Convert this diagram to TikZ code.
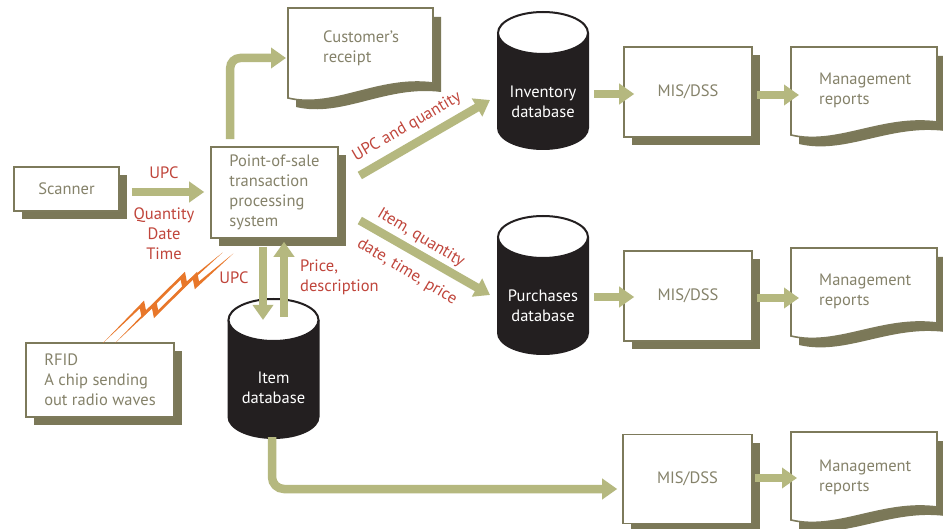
\documentclass[tikz,border=0pt]{standalone}
\usepackage{fontspec}
\setmainfont{PT Sans}
\usetikzlibrary{arrows.meta,shadows,calc}
\definecolor{boxc}{HTML}{7D7A5B}
\definecolor{shc}{HTML}{7B7858}
\definecolor{arrc}{HTML}{B5B87F}
\definecolor{txtc}{HTML}{85826A}
\definecolor{redc}{HTML}{C0453B}
\definecolor{orc}{HTML}{E8772A}
\definecolor{dbc}{HTML}{231F20}
% document shape: x1 y1 x2 yLeftBottom yRightBottom
\newcommand\mydocpath[5]{(#1,#2) -- (#3,#2) -- (#3,#5) .. controls ({#1+0.62*(#3-#1)},{#5-7}) and ({#1+0.32*(#3-#1)},{#4+11}) .. (#1,#4) -- cycle}
\newcommand\mydoc[5]{%
  \begin{scope}[shift={(8,9)}]\fill[shc] \mydocpath{#1}{#2}{#3}{#4}{#5};\end{scope}
  \draw[boxc, line width=1.6pt, fill=white] \mydocpath{#1}{#2}{#3}{#4}{#5};}
% database: cx yt yb
\newcommand\mydb[3]{%
  \fill[dbc] ({#1-46},#2) -- ({#1-46},#3) arc[start angle=180,end angle=360,x radius=46pt,y radius=22pt] -- ({#1+46},#2) -- cycle;
  \draw[dbc, line width=2pt, fill=white] (#1,#2) ellipse [x radius=45pt, y radius=21pt];}
\tikzset{
  box/.style={draw=boxc, line width=1.6pt, fill=white, text=txtc, align=left,
    drop shadow={opacity=1, fill=shc, shadow xshift=8pt, shadow yshift=-8pt}},
  doctext/.style={text=txtc, align=left, anchor=west, inner sep=0pt},
  dbtext/.style={text=white, align=center, inner sep=0pt},
  lbl/.style={text=redc, align=center, inner sep=0pt},
  lbll/.style={text=redc, align=left, anchor=west, inner sep=0pt},
  fat/.style={draw=arrc, line width=8.5pt, -{Triangle[length=15pt,width=20pt]}},
}
\begin{document}
\begin{tikzpicture}[x=1pt,y=-1pt,font=\fontsize{16.5}{20}\selectfont]
\fill[white] (0,0) rectangle (943,529);
\useasboundingbox (0,0) rectangle (943,529);

% boxes
\node[box, minimum width=105pt, minimum height=44pt] (scanner) at (66.5,189) {Scanner};
\node[box, minimum width=127pt, minimum height=91pt] (pos) at (274.5,192.5) {Point-of-sale\\transaction\\processing\\system};
\node[box, minimum width=148pt, minimum height=74pt] (rfid) at (100,380) {RFID\\A chip sending\\out radio waves};
\node[box, minimum width=128pt, minimum height=90pt] (mis1) at (688,92) {MIS/DSS};
\node[box, minimum width=128pt, minimum height=90pt] (mis2) at (688,296) {MIS/DSS};
\node[box, minimum width=129pt, minimum height=89pt] (mis3) at (687.5,479) {MIS/DSS};

% documents
\mydoc{288}{8}{433}{98}{83}
\node[doctext] (receipt) at (323,48) {Customer's\\receipt};
\mydoc{791}{47}{937}{135}{122}
\node[doctext] (rep1) at (819,90) {Management\\reports};
\mydoc{791}{248}{937}{336}{323}
\node[doctext] (rep2) at (819,291) {Management\\reports};
\mydoc{791}{432}{937}{520}{507}
\node[doctext] (rep3) at (819,477) {Management\\reports};

% databases
\mydb{543}{33}{128}
\node[dbtext] (inv) at (543,102) {Inventory\\database};
\mydb{543}{237}{333}
\node[dbtext] (pur) at (543,306) {Purchases\\database};
\mydb{273.5}{320}{417}
\node[dbtext] (item) at (273.5,388) {Item\\database};

% connector end points
\coordinate (rcptin) at (286,58);
\coordinate (invin) at (490,100);
\coordinate (purin) at (490,295);

% connectors
\draw[fat] ($(scanner.east)+(12,3)$) -- ($(pos.west)+(-6,-0.5)$);
\draw[fat, rounded corners=10pt] ($(pos.north west)+(20,-7)$) |- (rcptin);
\draw[fat] ($(pos.east)+(21,-17)$) -- (invin);
\draw[fat] ($(pos.east)+(21,28)$) -- (purin);
\draw[fat] ($(pos.south)+(-11.5,8)$) -- ($(item.north)+(-10.5,-52)$);
\draw[fat] ($(item.north)+(10.5,-55)$) -- ($(pos.south)+(9.5,3)$);
\draw[fat, rounded corners=12pt] ($(item.south)+(-1.5,33)$) |- ($(mis3.west)+(-5,10)$);
\draw[fat] ($(inv)+(51,-8)$) -- ($(mis1.west)+(11,2)$);
\draw[fat] ($(mis1.east)+(4,3)$) -- ($(rep1.west)+(-20,5)$);
\draw[fat] ($(pur)+(51,-9)$) -- ($(mis2.west)+(11,1)$);
\draw[fat] ($(mis2.east)+(4,2)$) -- ($(rep2.west)+(-20,7)$);
\draw[fat] ($(mis3.east)+(2,-1)$) -- ($(rep3.west)+(-22,1)$);

% labels
\node[lbl] (l1) at (164,173) {UPC};
\node[lbl] (l2) at (164,234) {Quantity\\Date\\Time};
\node[lbl] (l3) at (234,278) {UPC};
\node[lbll] (l4) at (300,277) {Price,\\description};
\node[lbl, rotate=30] (l5) at (407,127) {UPC and quantity};
\node[lbl, rotate=-31] (l6) at (421,238) {Item, quantity};
\node[lbl, rotate=-31] (l7) at (407,272) {date, time, price};

% RFID lightning
\begin{scope}[shift={(103,343)}, rotate=35.2]
  \fill[orc] (0,0) -- (50,-7) -- (46,2) -- (100,-7) -- (96,2) -- (150,-5) -- (104,-2) -- (108,-11) -- (54,-2) -- (58,-11) -- cycle;
  \fill[orc] (10,7) -- (60,0) -- (56,9) -- (110,0) -- (106,9) -- (158,2) -- (114,5) -- (118,-4) -- (64,5) -- (68,-4) -- cycle;
\end{scope}
\end{tikzpicture}
\end{document}
